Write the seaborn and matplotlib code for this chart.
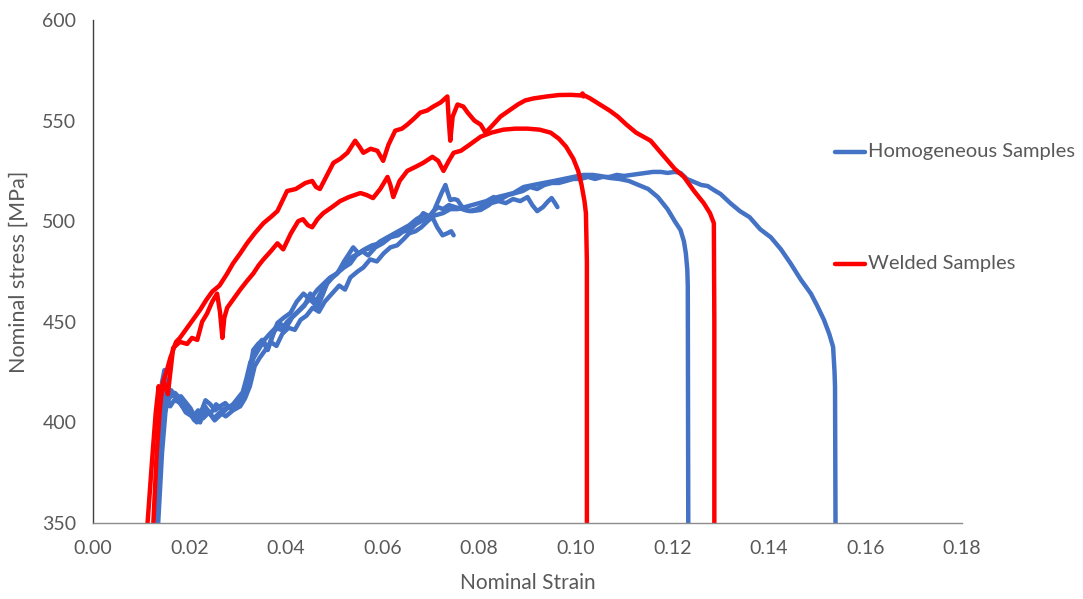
import numpy as np
import pandas as pd
import matplotlib
matplotlib.use("Agg")
import matplotlib.pyplot as plt
import seaborn as sns
from matplotlib.lines import Line2D

# ---------------- data ----------------
welded_1_strain = [0.0113, 0.0122, 0.0130, 0.0136, 0.0140, 0.0145, 0.0152, 0.0160, 0.0172, 0.0180,
                   0.0195, 0.0210, 0.0222, 0.0235, 0.0247, 0.0262, 0.0278, 0.0290, 0.0305, 0.0319,
                   0.0335, 0.0353, 0.0368, 0.0382, 0.0392, 0.0402, 0.0420, 0.0440, 0.0454, 0.0462,
                   0.0470, 0.0485, 0.0498, 0.0512, 0.0527, 0.0543, 0.0552, 0.0560, 0.0575, 0.0589,
                   0.0601, 0.0612, 0.0626, 0.0640, 0.0651, 0.0665, 0.0678, 0.0692, 0.0705, 0.0720,
                   0.0734, 0.0737, 0.0740, 0.0745, 0.0755, 0.0767, 0.0776, 0.0790, 0.0803, 0.0813,
                   0.0825, 0.0844, 0.0862, 0.0880, 0.0895, 0.0912, 0.0940, 0.0965, 0.0990, 0.1010,
                   0.1014, 0.1016, 0.1018, 0.1030, 0.1050, 0.1070, 0.1087, 0.1105, 0.1125, 0.1155,
                   0.1180, 0.1205, 0.1224, 0.1245, 0.1265, 0.1278, 0.1286, 0.1287, 0.1287]
welded_1_stress = [350, 380, 405, 418, 412, 420, 425, 432, 440, 442,
                   447, 452, 456, 461, 465, 468, 474, 479, 484, 489,
                   494, 499, 502, 505, 510, 515, 516, 519, 520, 517,
                   516, 523, 529, 531, 534, 540, 537, 534, 536, 535,
                   530, 538, 545, 546, 548, 551, 554, 555, 557, 559,
                   562, 550, 540, 552, 558, 557, 554, 550, 548, 544,
                   547, 552, 555, 558, 560, 561, 562, 562.7, 562.8, 562.5,
                   563.5, 562, 562.5, 561, 558, 555, 552, 548, 544, 540,
                   533, 526, 522, 515, 509, 504, 499, 450, 350]

welded_2_strain = [0.0125, 0.0132, 0.0138, 0.0142, 0.0147, 0.0155, 0.0166, 0.0180, 0.0195, 0.0205,
                   0.0216, 0.0226, 0.0236, 0.0247, 0.0257, 0.0263, 0.0268, 0.0272, 0.0278, 0.0290,
                   0.0305, 0.0318, 0.0332, 0.0343, 0.0353, 0.0368, 0.0382, 0.0394, 0.0410, 0.0425,
                   0.0435, 0.0445, 0.0454, 0.0465, 0.0477, 0.0495, 0.0512, 0.0530, 0.0554, 0.0567,
                   0.0580, 0.0595, 0.0610, 0.0616, 0.0622, 0.0635, 0.0651, 0.0668, 0.0684, 0.0703,
                   0.0715, 0.0726, 0.0737, 0.0747, 0.0762, 0.0780, 0.0803, 0.0825, 0.0850, 0.0875,
                   0.0900, 0.0925, 0.0948, 0.0965, 0.0980, 0.0995, 0.1005, 0.1012, 0.1018, 0.1021,
                   0.1023, 0.1023]
welded_2_stress = [350, 385, 405, 415, 420, 414, 437, 440, 439, 442,
                   441, 450, 454, 460, 464, 455, 442, 452, 457, 461,
                   466, 470, 474, 478, 481, 485, 489, 486, 494, 500,
                   501, 498, 497, 501, 504, 507, 510, 512, 514, 513,
                   511.5, 516, 522, 518, 512, 520, 525, 527, 529, 532,
                   530, 525, 530, 534, 535, 538, 542, 544, 545.5, 546,
                   546, 545.5, 544, 541, 537, 531, 525, 518, 510, 504,
                   480, 350]

homog_1_strain = [0.0135, 0.0143, 0.0150, 0.0155, 0.0160, 0.0168, 0.0180, 0.0192, 0.0205, 0.0215,
                  0.0225, 0.0238, 0.0250, 0.0263, 0.0275, 0.0290, 0.0305, 0.0315, 0.0325, 0.0335,
                  0.0345, 0.0357, 0.0368, 0.0380, 0.0392, 0.0405, 0.0418, 0.0430, 0.0442, 0.0455,
                  0.0468, 0.0480, 0.0495, 0.0510, 0.0522, 0.0533, 0.0548, 0.0560, 0.0574, 0.0588,
                  0.0602, 0.0616, 0.0630, 0.0643, 0.0655, 0.0668, 0.0680, 0.0693, 0.0703, 0.0713,
                  0.0724, 0.0734, 0.0742, 0.0747]
homog_1_stress = [350, 385, 405, 412, 408, 411, 410, 405, 403, 400,
                  404, 406, 402, 405, 403, 406, 408, 412, 418, 428,
                  432, 436, 440, 438, 444, 447, 446, 451, 453, 457,
                  455, 460, 464, 468, 466, 472, 475, 477, 481, 480,
                  484, 487, 488, 491, 494, 495, 497, 500, 502, 497,
                  493, 494, 495, 493]

homog_2_strain = [0.0130, 0.0138, 0.0145, 0.0150, 0.0155, 0.0162, 0.0172, 0.0182, 0.0192, 0.0202,
                  0.0212, 0.0222, 0.0232, 0.0243, 0.0255, 0.0268, 0.0280, 0.0292, 0.0302, 0.0312,
                  0.0322, 0.0330, 0.0340, 0.0350, 0.0362, 0.0375, 0.0388, 0.0400, 0.0412, 0.0425,
                  0.0438, 0.0450, 0.0462, 0.0475, 0.0490, 0.0505, 0.0520, 0.0535, 0.0550, 0.0565,
                  0.0580, 0.0595, 0.0610, 0.0625, 0.0640, 0.0655, 0.0670, 0.0684, 0.0695, 0.0705,
                  0.0715, 0.0725, 0.0737, 0.0750, 0.0765, 0.0780, 0.0795, 0.0810, 0.0825, 0.0840,
                  0.0855, 0.0870, 0.0885, 0.0900, 0.0910, 0.0920, 0.0932, 0.0943, 0.0950, 0.0957,
                  0.0962]
homog_2_stress = [350, 390, 410, 418, 414, 416, 412, 413, 410, 407,
                  402, 400, 408, 404, 409, 406, 408, 407, 410, 413,
                  420, 430, 438, 441, 436, 445, 449, 447, 452, 455,
                  458, 464, 460, 466, 471, 474, 478, 482, 484, 486,
                  487, 490, 492, 494, 496, 498, 501, 503, 502, 505,
                  507, 506, 508, 507, 506, 505, 506, 508, 509, 510,
                  509, 511, 510, 512, 508, 505, 507, 510, 511.5, 509,
                  507]

homog_3_strain = [0.0128, 0.0136, 0.0143, 0.0148, 0.0153, 0.0160, 0.0170, 0.0180, 0.0190, 0.0200,
                  0.0210, 0.0222, 0.0233, 0.0243, 0.0253, 0.0263, 0.0274, 0.0284, 0.0295, 0.0305,
                  0.0312, 0.0319, 0.0326, 0.0332, 0.0342, 0.0353, 0.0361, 0.0370, 0.0382, 0.0395,
                  0.0409, 0.0422, 0.0436, 0.0450, 0.0465, 0.0475, 0.0485, 0.0496, 0.0506, 0.0520,
                  0.0539, 0.0550, 0.0560, 0.0578, 0.0595, 0.0612, 0.0630, 0.0645, 0.0657, 0.0670,
                  0.0684, 0.0692, 0.0699, 0.0706, 0.0713, 0.0722, 0.0730, 0.0735, 0.0740, 0.0748,
                  0.0755, 0.0762, 0.0770, 0.0785, 0.0803, 0.0820, 0.0838, 0.0855, 0.0871, 0.0892,
                  0.0912, 0.0933, 0.0955, 0.0975, 0.0995, 0.1016, 0.1035, 0.1050, 0.1070, 0.1090,
                  0.1110, 0.1130, 0.1150, 0.1170, 0.1190, 0.1205, 0.1217, 0.1224, 0.1228, 0.1231,
                  0.1232, 0.1233]
homog_3_stress = [350, 395, 420, 426, 418, 415, 414.6, 412, 409.6, 405,
                  401, 404, 411, 409, 406, 408, 409.6, 407, 409, 411,
                  414, 419.6, 428, 436, 439, 441, 436, 442, 449.4, 452,
                  454.4, 460, 464, 461, 457.4, 463, 469, 472, 474, 480,
                  487, 484, 485.7, 488, 489, 492, 494, 495, 495.6, 499,
                  504, 503, 502, 505, 509, 514, 518, 514, 510.5, 511,
                  510.5, 508, 505.6, 505, 505.6, 508, 512, 513, 514, 517,
                  518, 519, 520, 521, 522, 523, 523, 522.5, 521.5, 521,
                  520, 518, 516, 512, 506, 500, 495.6, 490, 484, 476,
                  468, 350]

homog_4_strain = [0.0132, 0.0140, 0.0147, 0.0152, 0.0158, 0.0165, 0.0175, 0.0185, 0.0196, 0.0207,
                  0.0218, 0.0228, 0.0240, 0.0252, 0.0265, 0.0278, 0.0290, 0.0300, 0.0310, 0.0318,
                  0.0326, 0.0335, 0.0345, 0.0355, 0.0366, 0.0378, 0.0390, 0.0402, 0.0415, 0.0428,
                  0.0440, 0.0452, 0.0465, 0.0478, 0.0491, 0.0505, 0.0520, 0.0533, 0.0545, 0.0558,
                  0.0570, 0.0585, 0.0600, 0.0616, 0.0632, 0.0648, 0.0664, 0.0680, 0.0695, 0.0710,
                  0.0725, 0.0740, 0.0755, 0.0770, 0.0785, 0.0800, 0.0815, 0.0830, 0.0845, 0.0860,
                  0.0875, 0.0890, 0.0905, 0.0920, 0.0935, 0.0950, 0.0965, 0.0980, 0.0995, 0.1010,
                  0.1025, 0.1040, 0.1055, 0.1070, 0.1085, 0.1100, 0.1115, 0.1130, 0.1145, 0.1160,
                  0.1176, 0.1190, 0.1205, 0.1217, 0.1230, 0.1245, 0.1260, 0.1273, 0.1286, 0.1300,
                  0.1320, 0.1340, 0.1360, 0.1382, 0.1404, 0.1425, 0.1445, 0.1466, 0.1487, 0.1500,
                  0.1514, 0.1525, 0.1533, 0.1536, 0.1537, 0.1538]
homog_4_stress = [350, 392, 412, 416, 412, 414, 411, 408, 406, 403,
                  406, 402, 405, 401, 404, 407, 409, 412, 415, 422,
                  430, 433, 437, 441, 444, 447, 446, 450, 453, 456,
                  459, 462, 466, 469, 472, 474, 477, 479, 483, 485,
                  483, 487, 489, 492, 493, 496, 498, 500, 502, 503,
                  504, 506, 506, 507, 508, 509, 510, 512, 511, 513,
                  514, 515, 517, 516, 518, 519, 519, 520, 521, 521,
                  522, 521, 522, 522, 523, 522.5, 523, 523.5, 524, 524.5,
                  524.5, 524, 524.5, 524, 521, 519.5, 518, 517.5, 515.5, 513.5,
                  509, 505, 502, 496, 492, 486, 479, 471, 464, 458,
                  451, 444, 437.5, 425, 417.6, 350]

x_ticks = [0.00, 0.02, 0.04, 0.06, 0.08, 0.10, 0.12, 0.14, 0.16, 0.18]
y_ticks = [350, 400, 450, 500, 550, 600]
legend_labels = ["Homogeneous Samples", "Welded Samples"]

# ---------------- build table ----------------
series = [
    ("H1", "Homogeneous Samples", homog_1_strain, homog_1_stress),
    ("H2", "Homogeneous Samples", homog_2_strain, homog_2_stress),
    ("H3", "Homogeneous Samples", homog_3_strain, homog_3_stress),
    ("H4", "Homogeneous Samples", homog_4_strain, homog_4_stress),
    ("W1", "Welded Samples", welded_1_strain, welded_1_stress),
    ("W2", "Welded Samples", welded_2_strain, welded_2_stress),
]
frames = []
for name, grp, xs, ys in series:
    frames.append(pd.DataFrame({"strain": xs, "stress": ys, "sample": name, "group": grp}))
df = pd.concat(frames, ignore_index=True)

BLUE = "#4472C4"
RED = "#FF0000"
TXT = "#595959"

sns.set_style("white")
plt.rcParams["font.family"] = ["Lato", "DejaVu Sans"]

fig = plt.figure(figsize=(10.83, 5.99), dpi=100)
ax = fig.add_axes([93 / 1083, 76 / 599, (962 - 93) / 1083, (523 - 20) / 599])

sns.lineplot(data=df[df.group == "Homogeneous Samples"], x="strain", y="stress",
             units="sample", estimator=None, sort=False, color=BLUE, lw=3.2,
             ax=ax, legend=False)
sns.lineplot(data=df[df.group == "Welded Samples"], x="strain", y="stress",
             units="sample", estimator=None, sort=False, color=RED, lw=3.2,
             ax=ax, legend=False)

ax.set_xlim(0, 0.18)
ax.set_ylim(350, 600)
ax.set_xticks(x_ticks)
ax.set_xticklabels([f"{v:.2f}" for v in x_ticks])
ax.set_yticks(y_ticks)
ax.set_yticklabels([str(v) for v in y_ticks])
ax.tick_params(axis="both", length=0, labelsize=14, colors=TXT, pad=12)
ax.set_xlabel("Nominal Strain", fontsize=15, color=TXT, labelpad=12)
ax.set_ylabel("Nominal stress [MPa]", fontsize=15.5, color=TXT, labelpad=10)

for s in ["top", "right"]:
    ax.spines[s].set_visible(False)
ax.spines["left"].set_color("#404040")
ax.spines["left"].set_linewidth(1.0)
ax.spines["bottom"].set_color("#8c8c8c")
ax.spines["bottom"].set_linewidth(1.0)

# legend, drawn at the right like the reference
for lab, col, ypx in [(legend_labels[0], BLUE, 152), (legend_labels[1], RED, 264)]:
    yf = 1 - ypx / 599
    fig.add_artist(Line2D([835 / 1083, 865 / 1083], [yf, yf], color=col, lw=3.2,
                          transform=fig.transFigure))
    fig.text(868 / 1083, yf, lab, fontsize=14.5, color=TXT, va="center", ha="left")

fig.savefig("out.png", dpi=100, facecolor="white")
